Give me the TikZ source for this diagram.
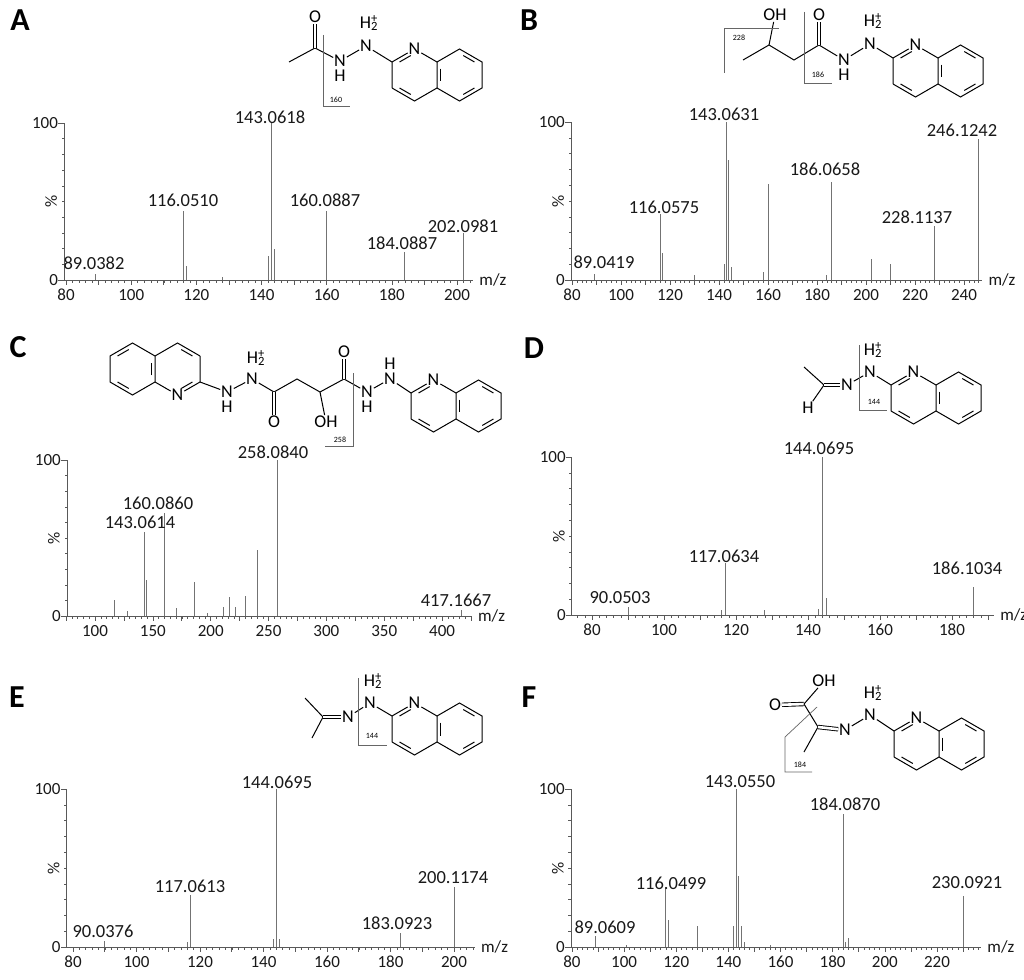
\documentclass[tikz,border=0pt]{standalone}
\usepackage{fontspec}
\setmainfont{Carlito}
\usetikzlibrary{calc}
\tikzset{
  peak/.style={draw=black!55,line width=0.8pt},
  axisl/.style={draw=black!65,line width=0.8pt},
  lab/.style={font=\fontsize{18.5}{18}\selectfont,text=black!90,inner sep=0pt},
  tlab/.style={font=\fontsize{17}{17}\selectfont,text=black!90,inner sep=0pt},
  letter/.style={font=\fontsize{32}{32}\selectfont\bfseries,inner sep=0pt},
  atom/.style={font=\fontsize{18}{18}\selectfont,inner sep=0.8pt},
  bond/.style={line width=1pt},
  dbond/.style={double,double distance=2.6pt,line width=0.9pt},
  frag/.style={draw=black!60,line width=0.7pt},
  flab/.style={font=\fontsize{8}{8}\selectfont,inner sep=0pt},
  panel/.style n args={4}{shift={(#1,#2)},x=#3pt,y=#4pt}
}
\newcommand\hplus{H\rlap{\textsuperscript{+}}\textsubscript{2}}
\newcommand\dbl[3]{\draw[bond] ($($(#1)!0.2!(#2)$)!4pt!(#3)$) -- ($($(#2)!0.2!(#1)$)!4pt!(#3)$);}
\newcommand\quin[4]{%
\begin{scope}[shift={(#1,#2)},rotate=#3]
 \coordinate (#4c2) at (0,0);
 \node[atom] (#4n) at (22.5,-13) {N};
 \coordinate (#4c8a) at (45,0); \coordinate (#4c4a) at (45,26);
 \coordinate (#4c4) at (22.5,39); \coordinate (#4c3) at (0,26);
 \coordinate (#4c8) at (67.5,-13); \coordinate (#4c7) at (90,0);
 \coordinate (#4c6) at (90,26); \coordinate (#4c5) at (67.5,39);
 \coordinate (#4l) at (22.5,13); \coordinate (#4r) at (67.5,13);
 \draw[bond] (#4c3)--(#4c2)--(#4n)--(#4c8a)--(#4c4a)--(#4c4)--(#4c3);
 \draw[bond] (#4c8a)--(#4c8)--(#4c7)--(#4c6)--(#4c5)--(#4c4a);
 \dbl{#4c2}{#4n}{#4l}\dbl{#4c3}{#4c4}{#4l}
 \dbl{#4c8a}{#4c4a}{#4r}\dbl{#4c8}{#4c7}{#4r}\dbl{#4c6}{#4c5}{#4r}
\end{scope}}
\newcommand\axes[9]{%
\begin{scope}[panel={#1}{#2}{#3}{#4}]
 \draw[axisl] (#5,0) -- (#6,0);
 \draw[axisl] (#5,0) -- (#5,100);
 \foreach \m in {#7} \draw[axisl,line width=0.5pt] (\m,0) -- ++(0pt,-2.5pt);
 \foreach \m in {#8} \draw[axisl,line width=0.6pt] (\m,0) -- ++(0pt,-5pt);
 \foreach \m in {#9} \node[tlab,anchor=north] at ($(\m,0)+(0pt,-9pt)$) {\m};
 \foreach \p in {10,20,...,90} \draw[axisl,line width=0.5pt] (#5,\p) -- ++(-2.5pt,0pt);
 \draw[axisl] (#5,100) -- ++(-6pt,0pt);
 \draw[axisl] (#5,0) -- ++(-6pt,0pt);
 \node[tlab,anchor=east] at ($(#5,100)+(-6pt,0pt)$) {100};
 \node[tlab,anchor=east] at ($(#5,0)+(-6pt,0pt)$) {0};
 \node[tlab,rotate=90] at ($(#5,50)+(-13pt,0pt)$) {\%};
 \node[tlab,anchor=west] at ($(#6,0)+(6pt,0pt)$) {m/z};
\end{scope}}
\newcommand\peaks[5]{%
\begin{scope}[panel={#1}{#2}{#3}{#4}]
 \foreach \m/\p in {#5} \draw[peak] (\m,0) -- (\m,\p);
\end{scope}}
\begin{document}
\begin{tikzpicture}[x=1pt,y=-1pt]
\useasboundingbox[fill=white] (0,0) rectangle (1024,979);
% ---------------- A
\node[letter] (LA) at (20,20) {A};
\peaks{-194.6}{280}{3.258}{1.57}{89/4,116/44,117/9,128/2,142/15,143/100,144/20,160/44,184/18,202/30}
\axes{-194.6}{280}{3.258}{1.57}{79.4}{205}{80,82,...,204}{80,90,...,200}{80,100,...,200}
\node[lab] at (270,117) {143.0618};
\node[lab] at (183,200) {116.0510};
\node[lab] at (325,200) {160.0887};
\node[lab] at (402,243) {184.0887};
\node[lab] at (463,226) {202.0981};
\node[lab] at (94,263) {89.0382};
\node[atom] (aO) at (315,17) {O};
\coordinate (aC) at (315,48); \coordinate (aMe) at (289,62);
\node[atom] (aN1) at (340,61) {N}; \node[atom] (aH1) at (340,76) {H};
\node[atom] (aN2) at (366,46) {N}; \node[atom] (aH2) at (369,23) {\hplus};
\quin{392}{62}{0}{qa}
\draw[bond] (aMe)--(aC)--(aN1)--(aN2)--(qac2);
\draw[dbond] (aC)--(aO);
\draw[frag] (323,35) -- (323,106) -- (350,106);
\node[flab] at (336,100) {160};
% ---------------- B
\node[letter] (LB) at (529,20) {B};
\peaks{376}{280}{2.45}{1.58}{89/4,116/42,117/17,130/3,142/10,143/100,144/76,145/8,158/5,160/61,184/3,186/62,202/13,210/10,228/34,246/89}
\axes{376}{280}{2.45}{1.58}{79.6}{247.5}{80,82,...,246}{80,90,...,240}{80,100,...,240}
\node[lab] at (724,114) {143.0631};
\node[lab] at (664,207) {116.0575};
\node[lab] at (825,169) {186.0658};
\node[lab] at (917,217) {228.1137};
\node[lab] at (962,130) {246.1242};
\node[lab] at (604,262) {89.0419};
\coordinate (bMe) at (743,60); \coordinate (bCH) at (769,45);
\node[atom] (bOH) at (775,15) {OH};
\coordinate (bCH2) at (794,60); \coordinate (bC) at (819,45);
\node[atom] (bO) at (819,15) {O};
\node[atom] (bN1) at (844,60) {N}; \node[atom] (bH1) at (844,75) {H};
\node[atom] (bN2) at (870,44) {N}; \node[atom] (bH2) at (873,21) {\hplus};
\quin{893}{58}{0}{qb}
\draw[bond] (bMe)--(bCH)--(bCH2)--(bC)--(bN1)--(bN2)--(qbc2);
\draw[bond] (bCH)--(bOH);
\draw[dbond] (bC)--(bO);
\draw[frag] (724,73) -- (724,28) -- (779,28);
\node[flab] at (739,38) {228};
\draw[frag] (804,12) -- (804,83) -- (832,83);
\node[flab] at (818,75) {186};
% ---------------- C
\node[letter] (LC) at (18,347) {C};
\peaks{-20.7}{616}{1.157}{1.56}{117/10,128/3,143/54,144/23,160/66,170/5,186/22,197/2,211/6,216/12,221/6,230/13,240/42,258/100,417/4}
\axes{-20.7}{616}{1.157}{1.56}{75.8}{425.8}{80,85,...,425}{75,100,...,425}{100,150,...,400}
\node[lab] at (273,452) {258.0840};
\node[lab] at (158,503) {160.0860};
\node[lab] at (140,522) {143.0614};
\node[lab] at (456,600) {417.1667};
\quin{200}{382}{180}{qc}
\node[atom] (cN1) at (227,392) {N}; \node[atom] (cH1) at (227,407) {H};
\node[atom] (cN2) at (252,379) {N}; \node[atom] (cH2) at (256,358) {\hplus};
\coordinate (cC1) at (274,392); \node[atom] (cO1) at (274,422) {O};
\coordinate (cCH2) at (297,379); \coordinate (cCH) at (320,392);
\node[atom] (cOH) at (326,422) {OH};
\coordinate (cC2) at (344,379); \node[atom] (cO2) at (344,352) {O};
\node[atom] (cN3) at (367,392) {N}; \node[atom] (cH3) at (367,407) {H};
\node[atom] (cN4) at (390,379) {N}; \node[atom] (cH4) at (390,364) {H};
\quin{411}{393}{0}{qd}
\draw[bond] (qcc2)--(cN1)--(cN2)--(cC1)--(cCH2)--(cCH)--(cC2)--(cN3)--(cN4)--(qdc2);
\draw[bond] (cCH)--(cOH);
\draw[dbond] (cC1)--(cO1);
\draw[dbond] (cC2)--(cO2);
\draw[frag] (353,373) -- (353,446) -- (325,446);
\node[flab] at (340,440) {258};
% ---------------- D
\node[letter] (LD) at (534,348) {D};
\peaks{304}{615}{3.6}{1.58}{90/5,116/3,117/33,128/3,143/4,144/100,145/11,186/18}
\axes{304}{615}{3.6}{1.58}{74.4}{191.7}{76,78,...,190}{80,90,...,190}{80,100,...,180}
\node[lab] at (819,448) {144.0695};
\node[lab] at (724,556) {117.0634};
\node[lab] at (967,568) {186.1034};
\node[lab] at (620,598) {90.0503};
\coordinate (dMe) at (804,367); \coordinate (dC) at (824,385);
\node[atom] (dH) at (808,408) {H};
\node[atom] (dN1) at (847,385) {N};
\node[atom] (dN2) at (870,372) {N}; \node[atom] (dH2) at (873,350) {\hplus};
\quin{891}{385}{0}{qe}
\draw[bond] (dMe)--(dC)--(dH);
\draw[dbond] (dC)--(dN1);
\draw[bond] (dN1)--(dN2)--(qec2);
\draw[frag] (859,345) -- (859,410) -- (887,410);
\node[flab] at (874,402) {144};
% ---------------- E
\node[letter] (LE) at (17,697) {E};
\peaks{-181}{947}{3.175}{1.58}{90/4,116/3,117/33,143/5,144/100,145/5,183/9,200/38}
\axes{-181}{947}{3.175}{1.58}{78}{206.6}{80,82,...,206}{80,90,...,200}{80,100,...,200}
\node[lab] at (277,782) {144.0695};
\node[lab] at (190,886) {117.0613};
\node[lab] at (397,923) {183.0923};
\node[lab] at (453,878) {200.1174};
\node[lab] at (103,931) {90.0376};
\coordinate (eMe1) at (305,698); \coordinate (eMe2) at (312,738);
\coordinate (eC) at (323,717);
\node[atom] (eN1) at (348,717) {N};
\node[atom] (eN2) at (370,703) {N}; \node[atom] (eH2) at (373,681) {\hplus};
\quin{392}{716}{0}{qf}
\draw[bond] (eMe1)--(eC)--(eMe2);
\draw[dbond] (eC)--(eN1);
\draw[bond] (eN1)--(eN2)--(qfc2);
\draw[frag] (358,678) -- (358,745) -- (387,745);
\node[flab] at (372,736) {144};
% ---------------- F
\node[letter] (LF) at (529,697) {F};
\peaks{363.4}{947}{2.607}{1.58}{89/7,101/1,116/37,117/17,128/13,142/13,143/100,144/45,145/13,146/3,156/1,184/84,185/3,186/6,230/32}
\axes{363.4}{947}{2.607}{1.58}{79.6}{237}{80,82,...,236}{80,90,...,230}{80,100,...,220}
\node[lab] at (740,782) {143.0550};
\node[lab] at (845,804) {184.0870};
\node[lab] at (671,883) {116.0499};
\node[lab] at (967,883) {230.0921};
\node[lab] at (605,927) {89.0609};
\coordinate (fC1) at (804,704);
\node[atom] (fO) at (775,705) {O};
\node[atom] (fOH) at (824,681) {OH};
\coordinate (fC2) at (818,727); \coordinate (fMe) at (804,752);
\node[atom] (fN1) at (845,730) {N};
\node[atom] (fN2) at (870,715) {N}; \node[atom] (fH2) at (873,693) {\hplus};
\quin{894}{731}{0}{qg}
\draw[dbond] (fC1)--(fO);
\draw[bond] (fC1)--(fOH);
\draw[bond] (fC1)--(fC2)--(fMe);
\draw[dbond] (fC2)--(fN1);
\draw[bond] (fN1)--(fN2)--(qgc2);
\draw[frag] (817,707) -- (785,737) -- (785,772) -- (812,772);
\node[flab] at (800,765) {184};
\end{tikzpicture}
\end{document}
